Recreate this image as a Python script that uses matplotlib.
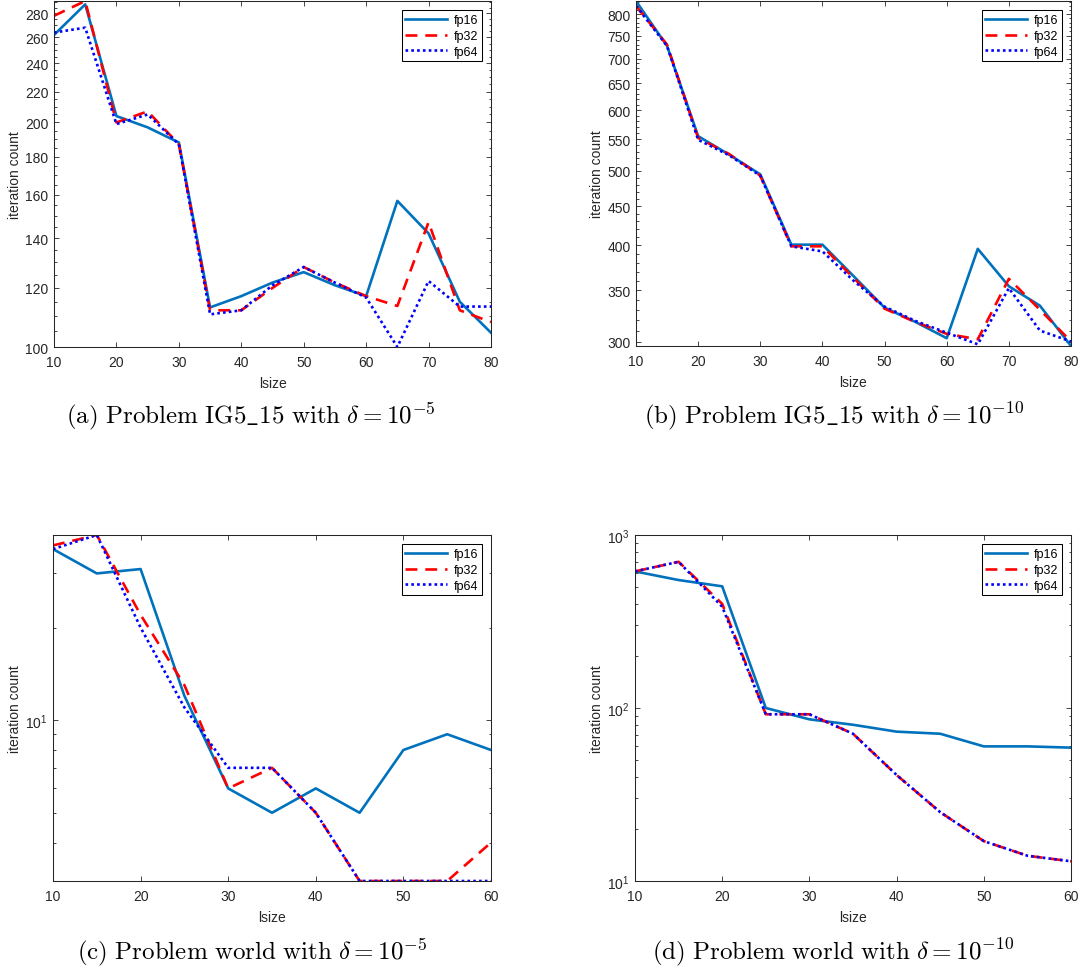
import matplotlib
matplotlib.use("Agg")
import matplotlib.pyplot as plt
from matplotlib.ticker import FixedLocator, MultipleLocator, LogLocator, NullFormatter, ScalarFormatter

# lsize values
lsize_ig5 = [10, 15, 20, 25, 30, 35, 40, 45, 50, 55, 60, 65, 70, 75, 80]
lsize_world = [10, 15, 20, 25, 30, 35, 40, 45, 50, 55, 60]

# IG5_15, delta = 1e-5
ig5_e5_fp16 = [262, 288, 204, 197, 188, 113, 117, 122, 126, 121, 117, 157, 142, 115, 104.5]
ig5_e5_fp32 = [278, 291, 200, 207, 187, 112, 112, 120, 128, 122, 117, 113.5, 147, 112, 108]
ig5_e5_fp64 = [264, 268, 199, 205, 187, 110.6, 112, 121, 128, 122, 116.5, 100, 122.6, 113.3, 113.3]

# IG5_15, delta = 1e-10
ig5_e10_fp16 = [832, 727, 555, 525, 495, 401, 401, 365, 332, 318, 303, 396, 354, 334, 296]
ig5_e10_fp32 = [820, 730, 552, 526, 493, 399, 399, 363, 331, 318, 307, 302, 362, 330, 300]
ig5_e10_fp64 = [820, 727, 549, 524, 493, 399, 393, 360, 333, 319, 308, 297.5, 352, 310, 300]

# world, delta = 1e-5
world_e5_fp16 = [36, 30, 31, 12, 6, 5, 6, 5, 8, 9, 8]
world_e5_fp32 = [37, 40, 22, 13, 6, 7, 5, 3, 3, 3, 4]
world_e5_fp64 = [36, 40, 20, 11, 7, 7, 5, 3, 3, 3, 3]

# world, delta = 1e-10
world_e10_fp16 = [616, 549, 505, 100, 86, 80, 73, 71, 60, 60, 59]
world_e10_fp32 = [616, 700, 400, 92, 92, 71, 41, 25, 17, 14, 13]
world_e10_fp64 = [616, 700, 385, 92, 92, 71, 41, 25, 17, 14, 13]

captions = [
    r"$\mathrm{(a)\ Problem\ IG5\_15\ with}\ \delta = 10^{-5}$",
    r"$\mathrm{(b)\ Problem\ IG5\_15\ with}\ \delta = 10^{-10}$",
    r"$\mathrm{(c)\ Problem\ world\ with}\ \delta = 10^{-5}$",
    r"$\mathrm{(d)\ Problem\ world\ with}\ \delta = 10^{-10}$",
]

plt.rcParams["font.family"] = ["Liberation Sans", "DejaVu Sans"]
plt.rcParams["font.size"] = 10
plt.rcParams["axes.linewidth"] = 0.75
plt.rcParams["axes.edgecolor"] = "#262626"
plt.rcParams["xtick.color"] = "#262626"
plt.rcParams["ytick.color"] = "#262626"
plt.rcParams["axes.labelcolor"] = "#262626"

fig = plt.figure(figsize=(10.85, 9.7), dpi=100)

W, H = 1085, 970
boxes = [(54, 2, 491, 348), (636, 2, 1071, 347), (53, 536, 491, 882), (635, 536, 1071, 882)]
axes = []
for l, t, r, b in boxes:
    axes.append(fig.add_axes([l / W, 1 - b / H, (r - l) / W, (b - t) / H]))

panels = [
    (lsize_ig5, ig5_e5_fp16, ig5_e5_fp32, ig5_e5_fp64),
    (lsize_ig5, ig5_e10_fp16, ig5_e10_fp32, ig5_e10_fp64),
    (lsize_world, world_e5_fp16, world_e5_fp32, world_e5_fp64),
    (lsize_world, world_e10_fp16, world_e10_fp32, world_e10_fp64),
]

for i, (ax, (x, y16, y32, y64)) in enumerate(zip(axes, panels)):
    ax.plot(x, y16, color="#0072BD", lw=1.9, label="fp16")
    ax.plot(x, y32, color="red", lw=1.9, ls=(0, (4.5, 3)), label="fp32")
    ax.plot(x, y64, color="blue", lw=1.9, ls=(0, (1, 1.2)), label="fp64")
    ax.set_yscale("log")
    ax.set_xlim(x[0], x[-1])
    allv = y16 + y32 + y64
    if i == 3:
        ax.set_ylim(10, 1000)
    else:
        ax.set_ylim(min(allv), max(allv))
    ax.xaxis.set_major_locator(MultipleLocator(10))
    ax.set_xlabel("lsize", labelpad=5)
    ax.set_ylabel("iteration count", labelpad=2)
    ax.tick_params(which="both", direction="in", top=True, right=True, width=0.6)
    ax.tick_params(which="major", length=3.5)
    ax.tick_params(which="minor", length=1.8)
    ax.tick_params(axis="x", pad=6)
    ax.tick_params(axis="y", pad=4)
    ax.legend(loc="upper right", fancybox=False, edgecolor="black", framealpha=1,
              fontsize=9, handlelength=3.3, handletextpad=0.55, labelspacing=0.3,
              borderaxespad=0.75, borderpad=0.3).get_frame().set_linewidth(0.75)

# plain-number tick labels on the IG5_15 panels
for ax, step, minor in [(axes[0], 20, 5), (axes[1], 50, 10)]:
    lo, hi = ax.get_ylim()
    start = int((lo + step - 1e-9) // step) * step
    ax.yaxis.set_major_locator(FixedLocator(list(range(start, int(hi) + 1, step))))
    ax.yaxis.set_major_formatter(ScalarFormatter())
    ax.yaxis.set_minor_locator(MultipleLocator(minor))
    ax.yaxis.set_minor_formatter(NullFormatter())

for ax in axes[2:]:
    ax.yaxis.set_major_locator(LogLocator(base=10))
    ax.yaxis.set_minor_locator(LogLocator(base=10, subs=range(2, 10)))
    ax.yaxis.set_minor_formatter(NullFormatter())

caption_pos = [(251, 416), (834, 416), (252, 952), (833, 952)]
for (cx, cy), txt in zip(caption_pos, captions):
    fig.text(cx / W, 1 - cy / H, txt, ha="center", va="center", fontsize=18, math_fontfamily="cm")

fig.savefig("out.png", dpi=100)
